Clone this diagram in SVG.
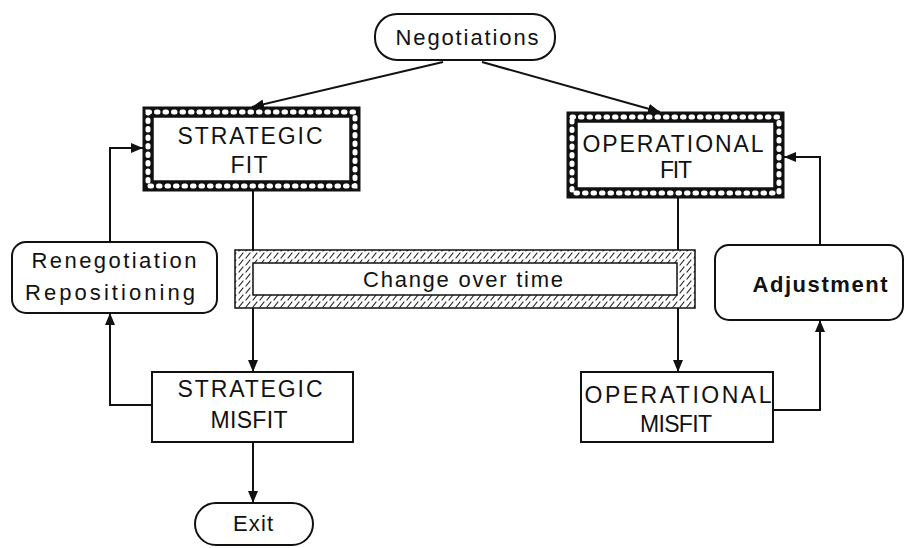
<svg xmlns="http://www.w3.org/2000/svg" width="906" height="548" viewBox="0 0 906 548">
<style>
text{font-family:"Liberation Sans",Arial,sans-serif;font-size:22px;fill:#111;text-anchor:middle}
.big{font-size:23px}
.box{fill:#fff;stroke:#111;stroke-width:2}
.conn{fill:none;stroke:#111;stroke-width:2}
.chainB{fill:none;stroke:#111;stroke-width:11}
.chainW{fill:none;stroke:#fff;stroke-width:5;stroke-dasharray:1.5 7;stroke-linecap:round}
.thin{fill:#fff;stroke:#111;stroke-width:1.5}
</style>
<defs>
<marker id="arr" viewBox="0 0 12 10" refX="12" refY="5" markerWidth="12" markerHeight="10" markerUnits="userSpaceOnUse" orient="auto">
<path d="M0,0 L12,5 L0,10 Z" fill="#111"/>
</marker>
<pattern id="hatch" patternUnits="userSpaceOnUse" width="7" height="7">
<rect width="7" height="7" fill="#fff"/>
<path d="M1,6 L5,1" stroke="#222" stroke-width="1.2" stroke-linecap="round"/>
</pattern>
</defs>
<g id="connectors">
<path class="conn" d="M443,62 L252,107" marker-end="url(#arr)"/>
<path class="conn" d="M482,62 L660,112" marker-end="url(#arr)"/>
<path class="conn" d="M253,191 L253,372" marker-end="url(#arr)"/>
<path class="conn" d="M678,198 L678,372" marker-end="url(#arr)"/>
<path class="conn" d="M152,405 L110,405 L110,313" marker-end="url(#arr)"/>
<path class="conn" d="M110,242 L110,148 L143,148" marker-end="url(#arr)"/>
<path class="conn" d="M773,410 L820,410 L820,320" marker-end="url(#arr)"/>
<path class="conn" d="M820,245 L820,157 L784,157" marker-end="url(#arr)"/>
<path class="conn" d="M253,442 L253,503" marker-end="url(#arr)"/>
</g>
<g id="negotiations">
<rect class="box" x="375" y="14" width="180" height="46" rx="22"/>
<text x="467" y="45" textLength="143" lengthAdjust="spacing">Negotiations</text>
</g>
<g id="strategic-fit">
<rect class="chainB" x="148" y="112" width="207" height="74"/>
<rect class="chainW" x="148" y="112" width="207" height="74"/>
<rect class="thin" x="153" y="117" width="197" height="64"/>
<text class="big" x="250" y="144" textLength="145" lengthAdjust="spacing">STRATEGIC</text>
<text class="big" x="249" y="173" textLength="37" lengthAdjust="spacing">FIT</text>
</g>
<g id="operational-fit">
<rect class="chainB" x="572" y="117" width="207" height="76"/>
<rect class="chainW" x="572" y="117" width="207" height="76"/>
<rect class="thin" x="577" y="122" width="197" height="66"/>
<text class="big" x="673" y="152" textLength="181" lengthAdjust="spacing">OPERATIONAL</text>
<text class="big" x="676" y="178" textLength="32" lengthAdjust="spacing">FIT</text>
</g>
<g id="change-over-time">
<rect x="235" y="250" width="460" height="58" fill="url(#hatch)" stroke="#111" stroke-width="1.5"/>
<rect class="thin" x="253" y="263" width="424" height="32"/>
<text x="463" y="287" font-size="21" textLength="200" lengthAdjust="spacing">Change over time</text>
</g>
<g id="renegotiation">
<rect class="box" x="12" y="242" width="205" height="71" rx="14"/>
<text x="114" y="268" textLength="165" lengthAdjust="spacing">Renegotiation</text>
<text x="110" y="300" textLength="170" lengthAdjust="spacing">Repositioning</text>
</g>
<g id="adjustment">
<rect class="box" x="715" y="245" width="188" height="75" rx="14"/>
<text x="820" y="292" font-weight="bold" textLength="135" lengthAdjust="spacing">Adjustment</text>
</g>
<g id="strategic-misfit">
<rect class="box" x="152" y="372" width="201" height="70"/>
<text class="big" x="250" y="397" textLength="145" lengthAdjust="spacing">STRATEGIC</text>
<text class="big" x="249" y="428" textLength="77" lengthAdjust="spacing">MISFIT</text>
</g>
<g id="operational-misfit">
<rect class="box" x="581" y="372" width="192" height="70"/>
<text class="big" x="678" y="403" textLength="187" lengthAdjust="spacing">OPERATIONAL</text>
<text class="big" x="676" y="432" textLength="72" lengthAdjust="spacing">MISFIT</text>
</g>
<g id="exit">
<rect class="box" x="195" y="503" width="118" height="42" rx="21"/>
<text x="253" y="531" textLength="40" lengthAdjust="spacing">Exit</text>
</g>
</svg>
